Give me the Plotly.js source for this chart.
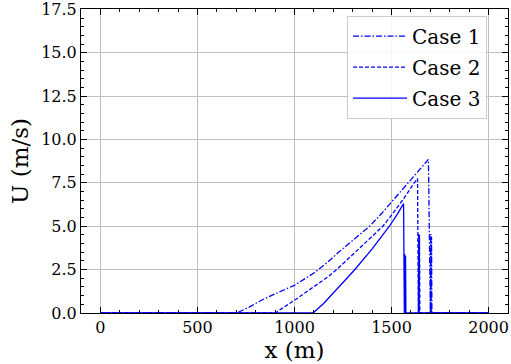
<!DOCTYPE html>
<html>
<head>
<meta charset="utf-8">
<script src="https://cdn.plot.ly/plotly-3.0.1.min.js"></script>
<style>
  html, body { margin: 0; padding: 0; background: #ffffff; }
  #chart { width: 511px; height: 364px; }
</style>
</head>
<body>
<div id="chart"></div>
<script>
// Velocity profiles U(x) for three cases
const case1X = [0, 702, 760, 832, 900, 1002, 1100, 1173, 1224, 1300, 1387, 1450, 1500, 1583, 1640, 1690, 1700, 1702, 1704, 1706, 1708, 2000];
const case1U = [0, 0, 0.3, 0.75, 1.1, 1.61, 2.3, 2.95, 3.47, 4.2, 5.0, 5.75, 6.4, 7.5, 8.2, 8.85, 0, 4.55, 0, 4.4, 0, 0];

const case2X = [0, 900, 1002, 1100, 1173, 1224, 1300, 1380, 1455, 1500, 1560, 1617, 1634, 1638, 1640, 1642, 1644, 1646, 2000];
const case2U = [0, 0, 0.75, 1.5, 2.09, 2.57, 3.37, 4.2, 5.0, 5.64, 6.55, 7.5, 7.75, 0, 4.6, 0, 4.5, 0, 0];

const case3X = [0, 1096, 1150, 1224, 1309, 1400, 1489, 1530, 1562, 1566, 1568, 1570, 1572, 1574, 2000];
const case3U = [0, 0, 0.55, 1.42, 2.48, 3.7, 5.0, 5.7, 6.3, 0, 3.4, 0, 3.3, 0, 0];

const seriesNames = ['Case 1', 'Case 2', 'Case 3'];
const dashes = ['6px,2px,1.5px,2px', '4px,2px', 'solid'];
const xs = [case1X, case2X, case3X];
const ys = [case1U, case2U, case3U];

const FONT = 'DejaVu Serif';

const traces = xs.map((x, i) => ({
  x: x,
  y: ys[i],
  type: 'scatter',
  mode: 'lines',
  name: seriesNames[i],
  legendgroup: 'g' + i,
  line: { color: '#0000ff', width: 1.3, dash: dashes[i] }
}));

const axisCommon = {
  showline: true,
  linecolor: '#000000',
  linewidth: 1,
  mirror: 'allticks',
  ticks: 'inside',
  ticklen: 6,
  tickwidth: 1,
  tickcolor: '#000000',
  showgrid: true,
  gridcolor: '#c0c0c0',
  gridwidth: 1,
  zeroline: false,
  ticklabeloverflow: 'allow',
  tickfont: { family: FONT, size: 16, color: '#000000' }
};

const layout = {
  width: 511,
  height: 364,
  margin: { l: 81, r: 3, t: 9, b: 51 },
  paper_bgcolor: '#ffffff',
  plot_bgcolor: '#ffffff',
  font: { family: FONT, color: '#000000' },
  showlegend: true,
  xaxis: Object.assign({}, axisCommon, {
    range: [-100, 2100],
    tick0: 0,
    dtick: 500,
    minor: { dtick: 100, ticks: 'inside', ticklen: 3, tickcolor: '#000000', showgrid: false },
    title: { text: 'x (m)', font: { family: FONT, size: 23, color: '#000000' }, standoff: 2 }
  }),
  yaxis: Object.assign({}, axisCommon, {
    range: [0, 17.52],
    tick0: 0,
    dtick: 2.5,
    tickformat: '.1f',
    minor: { dtick: 0.5, ticks: 'inside', ticklen: 3, tickcolor: '#000000', showgrid: false },
    title: { text: 'U (m/s)', font: { family: FONT, size: 23, color: '#000000' }, standoff: 6 }
  }),
  legend: {
    x: 0.623,
    y: 0.978,
    xanchor: 'left',
    yanchor: 'top',
    bgcolor: 'rgba(255,255,255,0.85)',
    bordercolor: '#cccccc',
    borderwidth: 1,
    traceorder: 'grouped',
    tracegroupgap: 2,
    font: { family: FONT, size: 20, color: '#000000' },
    itemwidth: 54,
    entrywidth: 140,
    entrywidthmode: 'pixels'
  }
};

Plotly.newPlot('chart', traces, layout, { displayModeBar: false, staticPlot: true });
</script>
</body>
</html>
